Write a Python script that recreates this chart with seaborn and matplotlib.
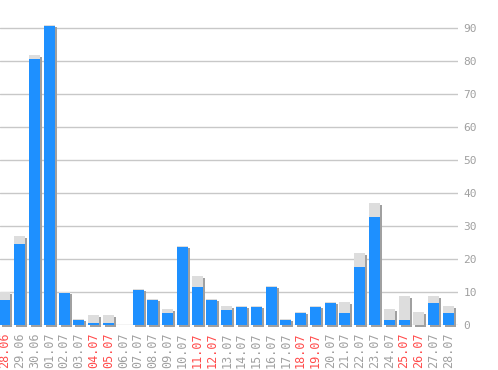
import matplotlib
matplotlib.use("Agg")
import matplotlib.pyplot as plt
from matplotlib.transforms import ScaledTranslation
import seaborn as sns

dates = ["28.06", "29.06", "30.06", "01.07", "02.07", "03.07", "04.07", "05.07",
         "06.07", "07.07", "08.07", "09.07", "10.07", "11.07", "12.07", "13.07",
         "14.07", "15.07", "16.07", "17.07", "18.07", "19.07", "20.07", "21.07",
         "22.07", "23.07", "24.07", "25.07", "26.07", "27.07", "28.07"]
blue_vals = [8, 25, 81, 91, 10, 2, 1, 1, 0, 11, 8, 4, 24, 12, 8, 5,
             6, 6, 12, 2, 4, 6, 7, 4, 18, 33, 2, 2, 0, 7, 4]
total_vals = [10, 27, 82, 91, 10, 2, 3, 3, 0, 11, 8, 5, 24, 15, 8, 6,
              6, 6, 12, 2, 4, 6, 7, 7, 22, 37, 5, 9, 4, 9, 6]
weekend = ["28.06", "04.07", "05.07", "11.07", "12.07", "18.07", "19.07", "25.07", "26.07"]
yticks = [0, 10, 20, 30, 40, 50, 60, 70, 80, 90]

sns.set_style("white")
plt.rcParams['font.family'] = ['DejaVu Sans Mono', 'DejaVu Sans']

DPI = 100
W, H = 498, 370
fig = plt.figure(figsize=(W / DPI, H / DPI), dpi=DPI)
fig.patch.set_facecolor("white")

ymax = 95
base_px = 325.3
ppu = 3.3
ax_h = ymax * ppu
ax = fig.add_axes([0, (H - base_px) / H, 458 / W, ax_h / H])
ax.set_facecolor("white")

bw = 0.74
# shadow bars
n0 = len(ax.patches)
sns.barplot(x=dates, y=total_vals, color="#a0a0a0", saturation=1, width=bw, ax=ax)
shadow = ax.patches[n0:]
off = ScaledTranslation(2 / DPI, -2 / DPI, fig.dpi_scale_trans)
for p in shadow:
    p.set_transform(ax.transData + off)
    p.set_clip_on(False)
    p.set_linewidth(0)

# total (light grey) bars
n1 = len(ax.patches)
sns.barplot(x=dates, y=total_vals, color="#dddddd", saturation=1, width=bw, ax=ax)
for p in ax.patches[n1:]:
    p.set_linewidth(0)

# blue bars
n2 = len(ax.patches)
sns.barplot(x=dates, y=blue_vals, color="#1e90ff", saturation=1, width=bw, ax=ax)
off2 = ScaledTranslation(0, -1 / DPI, fig.dpi_scale_trans)
for p in ax.patches[n2:]:
    p.set_transform(ax.transData + off2)
    p.set_linewidth(0)

ax.set_xlim(-0.34, 30.65)
ax.set_ylim(0, ymax)
ax.set_yticks(yticks)
ax.yaxis.tick_right()
ax.grid(axis="y", color="#c8c8c8", linewidth=1)
ax.grid(axis="x", visible=False)
ax.set_axisbelow(True)
for s in ax.spines.values():
    s.set_visible(False)
ax.tick_params(axis="y", length=0, pad=4, labelsize=8, labelcolor="#a0a0a0")
ax.tick_params(axis="x", length=0, pad=5, labelsize=8.5)
ax.set_xticks(range(len(dates)))
ax.set_xticklabels(dates, rotation=90)
for lbl in ax.get_xticklabels():
    lbl.set_color("#ff4c4c" if lbl.get_text() in weekend else "#a0a0a0")
ax.set_xlabel("")
ax.set_ylabel("")

fig.savefig("out.png", dpi=DPI, facecolor="white")
